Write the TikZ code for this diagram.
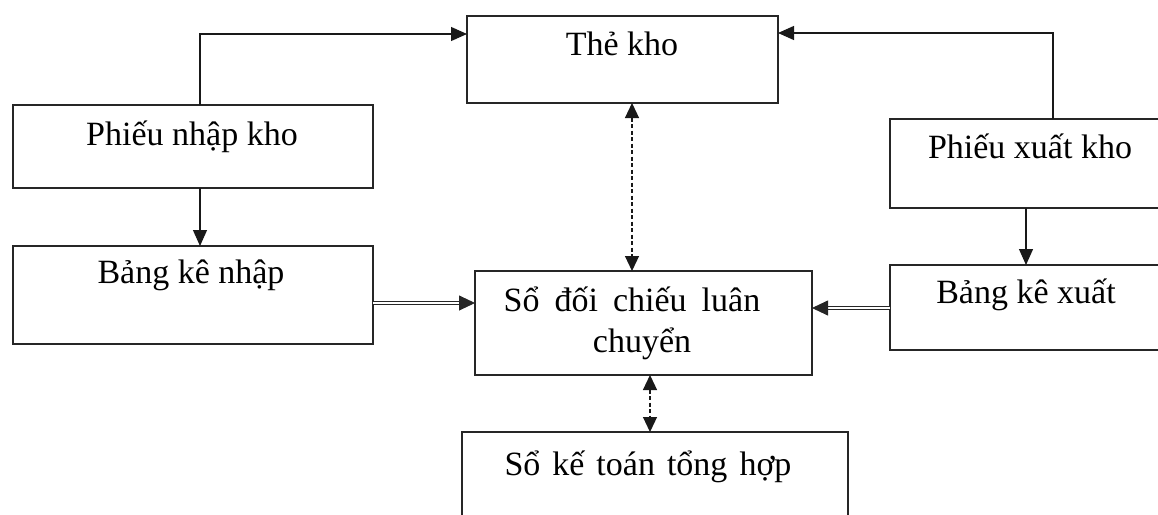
\documentclass[tikz,border=0pt]{standalone}
\usepackage{fontspec}
\setmainfont{Liberation Serif}
\usetikzlibrary{arrows.meta,calc}
\begin{document}
\begin{tikzpicture}[x=1pt,y=-1pt,
  box/.style={draw=black!85,line width=1.4pt,rectangle,anchor=north west,inner sep=0pt,outer sep=0pt},
  lbl/.style={anchor=base,inner sep=0pt,font=\fontsize{34}{40}\selectfont},
  arr/.style={draw=black!90,line width=1.2pt,-{Triangle[length=16pt,width=14pt]}},
  dbl/.style={draw=black!85,line width=0.9pt,double,double distance=2.6pt,-{Triangle[length=16pt,width=15pt]}},
  dsh/.style={draw=black!90,line width=1.2pt,dash pattern=on 4pt off 2.5pt,{Triangle[length=15pt,width=14pt]}-{Triangle[length=15pt,width=14pt]}}]
\useasboundingbox (0,0) rectangle (1158,514);

% boxes
\node[box,minimum width=311pt,minimum height=87pt] (thekho) at (467,16) {};
\node[box,minimum width=360pt,minimum height=83pt] (pnk) at (13,105) {};
\node[box,minimum width=360pt,minimum height=98pt] (bkn) at (13,246) {};
\node[box,minimum width=280pt,minimum height=89pt] (pxk) at (890,119) {};
\node[box,minimum width=280pt,minimum height=85pt] (bkx) at (890,265) {};
\node[box,minimum width=337pt,minimum height=104pt] (sdc) at (475,271) {};
\node[box,minimum width=386pt,minimum height=120pt] (skt) at (462,432) {};

% texts
\node[lbl] (t1) at (622,55) {Thẻ kho};
\node[lbl] (t2) at (192,145) {Phiếu nhập kho};
\node[lbl] (t3) at (191,283) {Bảng kê nhập};
\node[lbl] (t4) at (1030,158) {Phiếu xuất kho};
\node[lbl] (t5) at (1026,303) {Bảng kê xuất};
\node[lbl] (t6) at (632,311) {Sổ\hspace{15pt}đối\hspace{15pt}chiếu\hspace{15pt}luân};
\node[lbl] (t7) at (642,352) {chuyển};
\node[lbl] (t8) at (648,475) {Sổ\hspace{12pt}kế\hspace{12pt}toán\hspace{12pt}tổng\hspace{12pt}hợp};

% routing points
\coordinate (tl) at (200,34);
\coordinate (tr) at (1053,33);
\coordinate (xr) at (1026,0);
\coordinate (dl) at (0,303);
\coordinate (dr) at (0,308);
\coordinate (v1) at (632,0);
\coordinate (v2) at (650,0);

% connectors
\draw[arr] (pnk.north -| tl) |- (thekho.west |- tl);
\draw[arr] (pxk.north -| tr) |- (thekho.east |- tr);
\draw[arr] (pnk.south -| tl) -- (bkn.north -| tl);
\draw[arr] (pxk.south -| xr) -- (bkx.north -| xr);
\draw[dbl] (bkn.east |- dl) -- (sdc.west |- dl);
\draw[dbl] (bkx.west |- dr) -- (sdc.east |- dr);
\draw[dsh] (thekho.south -| v1) -- (sdc.north -| v1);
\draw[dsh] (sdc.south -| v2) -- (skt.north -| v2);
\end{tikzpicture}
\end{document}
